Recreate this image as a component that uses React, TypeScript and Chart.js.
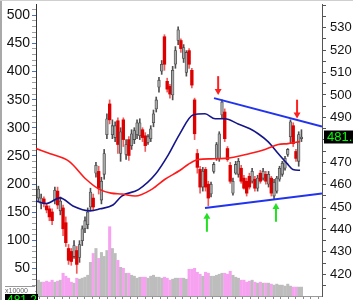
import React, { useEffect, useRef } from 'react';
import { Chart, registerables } from 'chart.js';

Chart.register(...registerables);

const FONT = '"Liberation Sans", Arial, Helvetica, sans-serif';

// Daily candles (price units of the right axis)
const candleOpen = [
  454.0, 451.4, 453.6, 450.5, 449.2, 447.8, 453.1, 457.1, 448.3, 449.6,
  443.0, 431.5, 430.2, 427.9, 430.6, 427.5, 435.0, 440.3, 442.1, 450.0,
  454.0, 465.1, 465.9, 453.1, 464.6, 482.3, 496.0, 482.3, 481.0, 488.5,
  473.9, 488.9, 473.5, 480.1, 477.4, 480.1, 482.3, 481.8, 484.5, 481.8,
  478.8, 480.5, 487.6, 493.8, 503.5, 510.6, 526.0, 506.1, 503.9, 500.0,
  513.7, 524.3, 524.3, 516.3, 510.1, 519.8, 511.0, 497.8, 473.9, 466.8,
  458.9, 466.8, 460.2, 455.8, 465.9, 471.7, 471.7, 491.1, 492.4, 476.1,
  468.6, 456.2, 465.1, 464.6, 467.3, 462.9, 461.5, 463.7, 461.5, 462.4,
  458.4, 465.1, 462.9, 464.6, 460.2, 462.9, 454.9, 457.1, 462.4, 464.6,
  467.3, 473.5, 481.4, 486.3, 474.8, 470.4, 480.5,
];
const candleHigh = [
  459.3, 455.8, 454.5, 451.4, 450.5, 449.2, 458.9, 458.9, 454.5, 450.9,
  445.6, 433.3, 431.5, 435.0, 432.4, 435.0, 441.6, 445.6, 449.6, 458.4,
  455.8, 469.9, 468.2, 463.3, 475.7, 491.6, 497.8, 488.9, 488.0, 489.8,
  485.4, 489.8, 480.1, 481.4, 484.5, 485.4, 488.9, 489.4, 485.4, 483.2,
  482.3, 486.3, 493.3, 499.1, 507.9, 515.4, 526.9, 507.5, 504.8, 512.8,
  521.6, 530.4, 525.1, 522.5, 519.8, 520.7, 511.9, 498.6, 475.7, 468.2,
  467.7, 467.7, 461.5, 461.1, 469.9, 478.8, 483.6, 497.8, 493.8, 477.0,
  469.9, 462.9, 470.4, 471.7, 468.6, 464.2, 462.9, 465.1, 467.3, 463.7,
  464.2, 466.4, 467.3, 465.9, 465.9, 463.7, 462.4, 463.7, 468.2, 470.4,
  472.6, 476.1, 488.9, 487.6, 475.7, 483.6, 484.5,
];
const candleLow = [
  452.7, 449.2, 450.0, 447.4, 443.9, 442.1, 451.4, 449.2, 446.5, 437.2,
  432.4, 424.4, 424.0, 427.1, 420.4, 425.3, 432.8, 438.6, 440.3, 448.3,
  448.3, 463.3, 455.8, 451.4, 462.4, 480.5, 487.1, 480.5, 479.2, 473.9,
  470.4, 477.0, 471.2, 470.8, 475.7, 478.3, 480.5, 480.1, 479.2, 474.8,
  477.9, 479.2, 485.8, 492.4, 501.3, 509.2, 511.0, 501.3, 498.6, 497.8,
  511.9, 522.5, 519.0, 514.5, 508.4, 511.9, 503.1, 480.1, 465.1, 456.2,
  457.1, 457.1, 450.5, 454.5, 465.1, 470.8, 470.4, 489.8, 479.2, 470.4,
  460.6, 455.3, 464.6, 463.3, 460.6, 458.0, 454.9, 458.0, 460.6, 457.1,
  457.1, 460.6, 462.0, 460.2, 458.9, 454.9, 453.6, 456.2, 461.5, 463.7,
  466.4, 472.6, 478.3, 477.0, 470.4, 468.2, 479.2,
];
const candleClose = [
  458.0, 454.0, 451.8, 448.7, 445.6, 443.9, 457.5, 450.9, 452.7, 440.3,
  434.1, 426.2, 425.7, 432.8, 424.4, 433.3, 440.3, 443.9, 447.8, 456.7,
  450.0, 468.6, 458.4, 461.5, 473.9, 489.4, 488.9, 486.3, 486.3, 477.9,
  483.6, 480.1, 477.9, 473.0, 482.7, 484.1, 487.6, 487.6, 481.0, 477.4,
  481.4, 484.9, 491.6, 497.8, 506.6, 513.7, 513.7, 502.6, 500.4, 511.0,
  519.8, 529.1, 520.7, 521.2, 519.0, 513.7, 504.4, 482.7, 467.7, 458.9,
  465.9, 458.9, 454.0, 460.2, 469.0, 477.9, 482.7, 496.9, 480.5, 471.2,
  461.5, 461.5, 469.0, 470.4, 461.5, 458.4, 456.2, 458.9, 465.9, 458.4,
  462.9, 461.5, 465.9, 461.5, 464.6, 456.2, 461.1, 462.9, 467.3, 469.5,
  471.7, 475.7, 488.0, 478.3, 471.7, 482.3, 481.2,
];
// Volume, x10000
const volume = [
  16, 14, 14, 15, 14, 16, 14, 15, 16, 23,
  20, 18, 14, 13, 18, 17, 18, 19, 21, 34,
  43, 48, 38, 44, 40, 46, 70, 48, 43, 36,
  29, 28, 23, 23, 21, 20, 18, 19, 19, 19,
  18, 20, 21, 19, 19, 18, 19, 18, 16, 17,
  18, 18, 18, 18, 17, 27, 27, 28, 24, 22,
  20, 24, 23, 20, 20, 21, 22, 23, 23, 22,
  25, 21, 19, 18, 16, 16, 14, 15, 16, 14,
  13, 14, 13, 13, 13, 12, 11, 12, 11, 11,
  10, 12, 10, 9, 9, 9, 9,
];

// Moving averages (bar position, price)
const maLongSlots = [-0.9, 5, 11.2, 17.4, 22.1, 26.5, 30.5, 35.3, 41.5, 46.2, 51.7, 54.6, 58.3, 63, 68.1, 77.2, 82.7, 87.5, 91.1, 95.5];
const maLongValues = [476.1, 473.5, 470.4, 462.4, 458.0, 456.2, 455.8, 454.9, 458.0, 462.4, 466.4, 469.0, 471.2, 471.5, 471.7, 473.9, 475.7, 477.9, 478.3, 479.2];
const maShortSlots = [-0.9, 2.8, 7.9, 12.6, 18.8, 22.5, 27.2, 30.4, 36.5, 42.6, 47.4, 51.7, 56.4, 60.8, 64.5, 68.1, 72.9, 77.2, 80.2, 83.8, 87.5, 90.7, 92.9, 95.5];
const maShortValues = [452.7, 451.5, 454.1, 450.5, 448.3, 449.2, 450.9, 454.9, 457.8, 464.5, 473.3, 482.9, 491.1, 491.6, 489.4, 489.4, 487.1, 484.9, 482.7, 479.2, 473.9, 469.5, 466.8, 466.4];

// Trend lines
const upperTrendSlots = [64.1, 103.5];
const upperTrendValues = [498.6, 485.9];
const lowerTrendSlots = [60.8, 103.5];
const lowerTrendValues = [449.6, 456.0];

// Arrows (bar position, price at arrow tip)
const downArrowSlots = [65.6, 94.4];
const downArrowTips = [500.0, 489.5];
const upArrowSlots = [61.5, 86.7];
const upArrowTips = [447.4, 451.8];

// Axis tick labels
const leftTickLabels = [50, 100, 150, 200, 250, 300, 350, 400, 450, 500];
const rightTickLabels = [420, 430, 440, 450, 460, 470, 480, 490, 500, 510, 520, 530];
const leftRange = [1.3, 519.9];
const rightRange = [410.3, 540.6];
const volumeMultiplier = 'x10000';

const lastPrice = candleClose[candleClose.length - 1];

const isUp = (i: number) => candleClose[i] >= candleOpen[i];

const ARROW_LEN = 8.4;
const HEAD_BASE = 2.4;
const HEAD_CENTER = 1.77;

function buildConfig(): any {
  const slots = candleOpen.map((_, i) => i);
  const arrowSets: any[] = [];
  downArrowSlots.forEach((s, k) => {
    const t = downArrowTips[k];
    arrowSets.push({
      type: 'line', xAxisID: 'x', yAxisID: 'y',
      data: [{ x: s, y: t + HEAD_BASE }, { x: s, y: t + ARROW_LEN }],
      borderColor: '#ff2020', borderWidth: 2, pointRadius: 0, order: 1,
    });
  });
  upArrowSlots.forEach((s, k) => {
    const t = upArrowTips[k];
    arrowSets.push({
      type: 'line', xAxisID: 'x', yAxisID: 'y',
      data: [{ x: s, y: t - HEAD_BASE }, { x: s, y: t - ARROW_LEN }],
      borderColor: '#22e022', borderWidth: 2, pointRadius: 0, order: 1,
    });
  });
  arrowSets.push({
    type: 'line', showLine: false, xAxisID: 'x', yAxisID: 'y',
    data: downArrowSlots.map((s, k) => ({ x: s, y: downArrowTips[k] + HEAD_CENTER })),
    pointStyle: 'triangle', pointRadius: 4, pointRotation: 180,
    pointBackgroundColor: '#ff2020', pointBorderWidth: 0, order: 1,
  });
  arrowSets.push({
    type: 'line', showLine: false, xAxisID: 'x', yAxisID: 'y',
    data: upArrowSlots.map((s, k) => ({ x: s, y: upArrowTips[k] - HEAD_CENTER })),
    pointStyle: 'triangle', pointRadius: 4, pointRotation: 0,
    pointBackgroundColor: '#22e022', pointBorderWidth: 0, order: 1,
  });

  const priceTag = {
    id: 'priceTag',
    afterDraw(chart: any) {
      const { ctx, chartArea, scales } = chart;
      const y = scales.y.getPixelForValue(lastPrice);
      ctx.save();
      ctx.fillStyle = '#000';
      ctx.fillRect(chartArea.right + 2, Math.round(y) - 6.5, 40, 13);
      ctx.fillStyle = '#00ff00';
      ctx.font = '13px ' + FONT;
      ctx.textBaseline = 'middle';
      ctx.fillText(lastPrice.toFixed(1), chartArea.right + 5, Math.round(y) + 0.5);
      ctx.restore();
    },
  };

  return {
    type: 'bar',
    data: {
      datasets: [
        {
          type: 'bar', label: 'Volume', xAxisID: 'x', yAxisID: 'yv',
          data: volume.map((v, i) => ({ x: i, y: v })),
          backgroundColor: volume.map((_, i) => (isUp(i) ? '#bdbdbd' : '#f6a2f0')),
          grouped: false, barPercentage: 1, categoryPercentage: 1, maxBarThickness: 2.4, order: 10,
        },
        {
          type: 'bar', label: 'Wick', xAxisID: 'x', yAxisID: 'y',
          data: slots.map((i) => ({ x: i, y: [candleLow[i], candleHigh[i]] })),
          backgroundColor: slots.map((i) => (isUp(i) ? '#505050' : '#ee5c5c')),
          grouped: false, barPercentage: 1, categoryPercentage: 1, maxBarThickness: 1, order: 6,
        },
        {
          type: 'bar', label: 'Body', xAxisID: 'x', yAxisID: 'y',
          data: slots.map((i) => ({ x: i, y: [Math.min(candleOpen[i], candleClose[i]), Math.max(candleOpen[i], candleClose[i])] })),
          backgroundColor: slots.map((i) => (isUp(i) ? '#a9a9a9' : '#de0000')),
          borderColor: slots.map((i) => (isUp(i) ? '#4a4a4a' : '#de0000')),
          borderWidth: slots.map((i) => (isUp(i) ? 0.8 : 0)),
          borderSkipped: false,
          grouped: false, barPercentage: 1, categoryPercentage: 1, maxBarThickness: 2.7, order: 5,
        },
        {
          type: 'line', label: 'MA long', xAxisID: 'x', yAxisID: 'y',
          data: maLongSlots.map((s, k) => ({ x: s, y: maLongValues[k] })),
          borderColor: '#ff1a1a', borderWidth: 1.6, pointRadius: 0, cubicInterpolationMode: 'monotone', order: 3,
        },
        {
          type: 'line', label: 'MA short', xAxisID: 'x', yAxisID: 'y',
          data: maShortSlots.map((s, k) => ({ x: s, y: maShortValues[k] })),
          borderColor: '#15158a', borderWidth: 1.6, pointRadius: 0, cubicInterpolationMode: 'monotone', order: 3,
        },
        {
          type: 'line', label: 'Upper trend', xAxisID: 'x', yAxisID: 'y',
          data: upperTrendSlots.map((s, k) => ({ x: s, y: upperTrendValues[k] })),
          borderColor: '#2233ee', borderWidth: 2, pointRadius: 0, order: 2,
        },
        {
          type: 'line', label: 'Lower trend', xAxisID: 'x', yAxisID: 'y',
          data: lowerTrendSlots.map((s, k) => ({ x: s, y: lowerTrendValues[k] })),
          borderColor: '#2233ee', borderWidth: 2, pointRadius: 0, order: 2,
        },
        ...arrowSets,
      ],
    },
    options: {
      animation: false,
      responsive: false,
      devicePixelRatio: 1,
      layout: { padding: { top: 1, left: 0, right: 0, bottom: 0 } },
      plugins: { legend: { display: false }, tooltip: { enabled: false } },
      scales: {
        x: {
          type: 'linear', display: false, min: -0.88, max: 103.5, offset: false,
          ticks: { stepSize: 1, includeBounds: false },
        },
        xt: {
          type: 'linear', position: 'bottom', min: 0, max: 38, offset: false,
          ticks: { display: false, stepSize: 1, includeBounds: false, autoSkip: false },
          grid: { drawOnChartArea: false, drawTicks: true, tickLength: 3, tickColor: '#8a8a8a' },
          border: { display: true, color: '#9a9a9a', width: 1 },
          afterFit: (s: any) => { s.height = 4; s.paddingLeft = 0; s.paddingRight = 0; },
        },
        yl: {
          type: 'linear', position: 'left', min: leftRange[0], max: leftRange[1],
          ticks: {
            stepSize: 10, includeBounds: false, autoSkip: false, padding: 2,
            font: { size: 14, family: FONT }, color: '#111',
            callback: (v: number) => (leftTickLabels.includes(Math.round(v)) ? String(Math.round(v)) : ''),
          },
          grid: {
            drawOnChartArea: false, tickLength: 4,
            tickColor: (c: any) => (c.tick && leftTickLabels.includes(Math.round(c.tick.value)) ? '#4f72b8' : '#a0a0a0'),
          },
          border: { display: true, color: '#333', width: 1 },
          afterFit: (s: any) => { s.width = 36; s.paddingTop = 0; s.paddingBottom = 0; },
        },
        y: {
          type: 'linear', position: 'right', min: rightRange[0], max: rightRange[1],
          ticks: {
            stepSize: 5, includeBounds: false, autoSkip: false, padding: 4,
            font: { size: 13, family: FONT }, color: '#111',
            callback: (v: number) => (rightTickLabels.includes(Math.round(v)) ? String(Math.round(v)) : ''),
          },
          grid: { drawOnChartArea: false, tickLength: 4, tickColor: '#555' },
          border: { display: true, color: '#555', width: 1 },
          afterFit: (s: any) => { s.width = 31; s.paddingTop = 0; s.paddingBottom = 0; },
        },
        yv: { type: 'linear', display: false, min: 0, max: 295 },
      },
    },
    plugins: [priceTag],
  };
}

export default function App() {
  const ref = useRef<HTMLCanvasElement>(null);
  useEffect(() => {
    const chart = new Chart(ref.current as HTMLCanvasElement, buildConfig());
    return () => chart.destroy();
  }, []);
  return (
    <div style={{ position: 'fixed', left: 0, top: 0, width: 353, height: 300, overflow: 'hidden', background: '#fff' }}>
      <canvas ref={ref} width={353} height={300} style={{ display: 'block', width: 353, height: 300 }} />
      <div style={{ position: 'absolute', left: 0, top: 0, width: 2, height: 300, background: '#a9a9a9' }} />
      <div style={{ position: 'absolute', left: 0, top: 0, width: 353, height: 1, background: '#cfcfcf' }} />
      <div style={{ position: 'absolute', left: 5, top: 286, width: 30, height: 8, borderTop: '1px solid #999', fontSize: 7, lineHeight: '7px', color: '#666', fontFamily: FONT, overflow: 'hidden', background: '#fff' }}>{volumeMultiplier}</div>
      <div style={{ position: 'absolute', left: 5, top: 294, width: 31, height: 12, background: '#000', color: '#00ff00', fontSize: 12, lineHeight: '12px', fontFamily: FONT, overflow: 'hidden', paddingLeft: 2 }}>{lastPrice.toFixed(1)}</div>
    </div>
  );
}
